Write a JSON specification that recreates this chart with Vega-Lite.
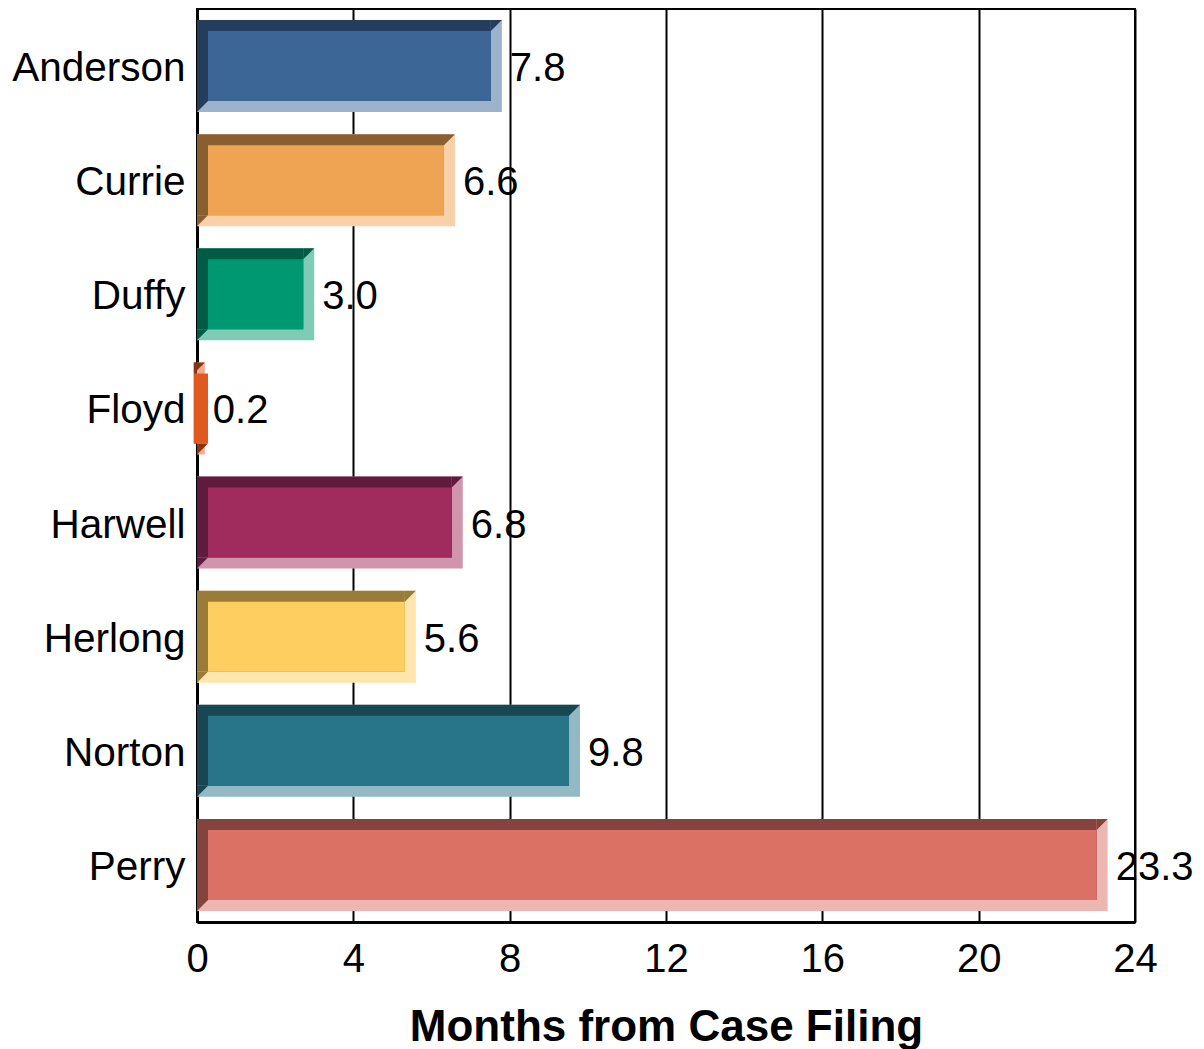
{
  "$schema": "https://vega.github.io/schema/vega-lite/v6.json",
  "width": 938,
  "height": 913,
  "autosize": "none",
  "padding": {"left": 197, "top": 9, "right": 69, "bottom": 127},
  "background": "white",
  "config": {
    "font": "Liberation Sans",
    "view": {"stroke": "black", "strokeWidth": 2},
    "axis": {"labelColor": "black", "titleColor": "black", "domainColor": "black", "labelFont": "Liberation Sans", "titleFont": "Liberation Sans"}
  },
  "data": {
    "values": [
      {"judge": "Anderson", "months": 7.8},
      {"judge": "Currie", "months": 6.6},
      {"judge": "Duffy", "months": 3.0},
      {"judge": "Floyd", "months": 0.2},
      {"judge": "Harwell", "months": 6.8},
      {"judge": "Herlong", "months": 5.6},
      {"judge": "Norton", "months": 9.8},
      {"judge": "Perry", "months": 23.3}
    ]
  },
  "encoding": {
    "y": {
      "field": "judge", "type": "nominal", "sort": null,
      "scale": {"padding": 0},
      "axis": {"title": null, "ticks": false, "labelFontSize": 40.5, "labelPadding": 12, "labelOffset": 3, "domainWidth": 3, "grid": false}
    }
  },
  "layer": [
    {
      "mark": {"type": "bar", "height": 92},
      "encoding": {
        "x": {
          "field": "months", "type": "quantitative",
          "scale": {"domain": [0, 24], "nice": false, "zero": true},
          "axis": {"values": [0, 4, 8, 12, 16, 20, 24], "grid": true, "gridColor": "black", "gridWidth": 2, "gridOpacity": 1, "ticks": false, "domainWidth": 3, "labelFontSize": 40, "labelPadding": 17, "labelFlush": false, "labelOverlap": false, "title": "Months from Case Filing", "titleFontSize": 44, "titleFontWeight": "bold", "titlePadding": 26}
        },
        "x2": {"datum": 0},
        "color": {"field": "judge", "type": "nominal", "legend": null,
          "scale": {"domain": ["Anderson","Currie","Duffy","Floyd","Harwell","Herlong","Norton","Perry"],
                    "range": ["#9DB2CC","#F8D1A8","#7FCBB6","#F0AC8F","#D095AD","#FFE6AF","#93BAC4","#EDB7B1"]}}
      }
    },
    {
      "mark": {"type": "bar", "height": 81, "yOffset": -5.5, "xOffset": -11},
      "encoding": {
        "x": {"field": "months", "type": "quantitative"},
        "x2": {"datum": 0},
        "color": {"field": "judge", "type": "nominal", "legend": null,
          "scale": {"domain": ["Anderson","Currie","Duffy","Floyd","Harwell","Herlong","Norton","Perry"],
                    "range": ["#243D5C","#8A5F30","#005C44","#8A3512","#601A3C","#9A7C38","#184653","#84433C"]}}
      }
    },
    {
      "mark": {"type": "point", "filled": true, "opacity": 1, "strokeWidth": 0, "size": 121, "shape": "M-1,-1L1,-1L-1,1Z", "xOffset": -5.5, "yOffset": -40.5},
      "encoding": {
        "x": {"field": "months", "type": "quantitative"},
        "color": {"field": "judge", "type": "nominal", "legend": null,
          "scale": {"domain": ["Anderson","Currie","Duffy","Floyd","Harwell","Herlong","Norton","Perry"],
                    "range": ["#243D5C","#8A5F30","#005C44","#8A3512","#601A3C","#9A7C38","#184653","#84433C"]}}
      }
    },
    {
      "mark": {"type": "point", "filled": true, "opacity": 1, "strokeWidth": 0, "size": 121, "shape": "M-1,-1L1,-1L-1,1Z", "xOffset": 5.5, "yOffset": 40.5},
      "encoding": {
        "x": {"datum": 0, "type": "quantitative"},
        "color": {"field": "judge", "type": "nominal", "legend": null,
          "scale": {"domain": ["Anderson","Currie","Duffy","Floyd","Harwell","Herlong","Norton","Perry"],
                    "range": ["#243D5C","#8A5F30","#005C44","#8A3512","#601A3C","#9A7C38","#184653","#84433C"]}}
      }
    },
    {
      "mark": {"type": "bar", "height": 70, "xOffset": -11, "x2Offset": 11},
      "encoding": {
        "x": {"field": "months", "type": "quantitative"},
        "x2": {"datum": 0},
        "color": {"field": "judge", "type": "nominal", "legend": null,
          "scale": {"domain": ["Anderson","Currie","Duffy","Floyd","Harwell","Herlong","Norton","Perry"],
                    "range": ["#3B6696","#EFA454","#009870","#E05A20","#A02C5E","#FECE60","#28758A","#DB7064"]}}
      }
    },
    {
      "mark": {"type": "text", "align": "left", "baseline": "middle", "dx": 8, "dy": 3, "fontSize": 40, "color": "black"},
      "encoding": {
        "x": {"field": "months", "type": "quantitative"},
        "text": {"field": "months", "type": "quantitative", "format": ".1f"}
      }
    }
  ],
  "resolve": {"scale": {"color": "independent"}}
}
